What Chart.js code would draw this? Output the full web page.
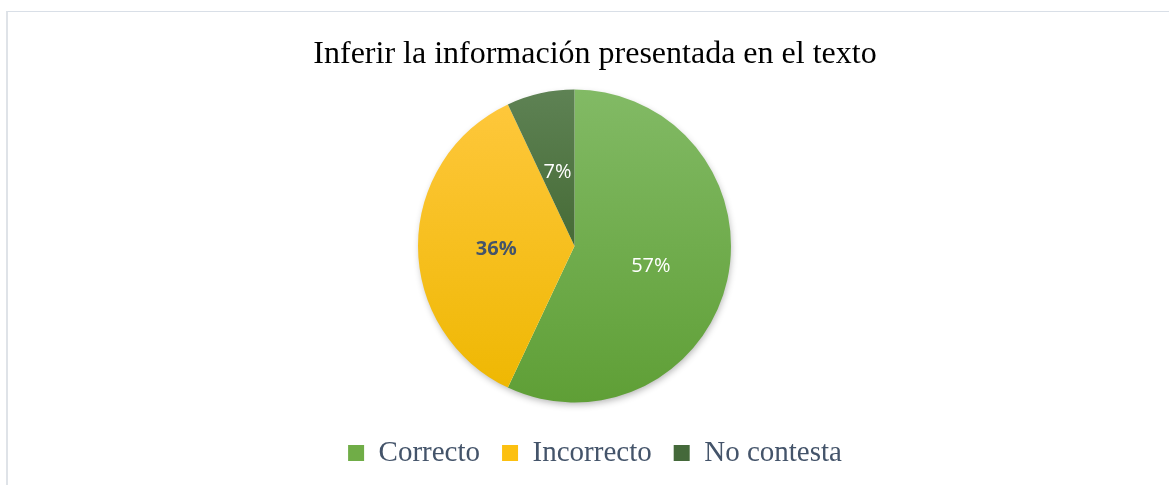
<!DOCTYPE html>
<html lang="es">
<head>
<meta charset="utf-8">
<title>Inferir la información presentada en el texto</title>
<script src="https://cdn.jsdelivr.net/npm/chart.js@4/dist/chart.umd.min.js"></script>
<style>
    html, body { margin: 0; padding: 0; background: #fff; overflow: hidden; }
    .chart-frame {
        position: absolute; left: 6px; top: 11px; width: 1200px; height: 500px;
        border-top: 1px solid #d9dfe7; border-left: 2px solid #dfe3e8;
    }
    #chart1 { position: absolute; left: 21px; top: 0; }
</style>
</head>
<body>
<div class="chart-frame"></div>
<canvas id="chart1" width="1148" height="485"></canvas>

<script>
/*===================================================================================*/
/*  data
/*===================================================================================*/
var chartTitle = 'Inferir la información presentada en el texto';
var categories = ['Correcto', 'Incorrecto', 'No contesta'];
var values = [57, 36, 7];

// colours: top / bottom of each slice gradient, flat colour for the legend
var topColors = ['#82ba65', '#ffc83e', '#5e8254'];
var bottomColors = ['#5f9f36', '#eeb700', '#2e5418'];
var legendColors = ['#70ad47', '#fcc010', '#44693a'];
var labelColors = ['#ffffff', '#44546a', '#ffffff'];
var labelWeights = ['normal', 'bold', 'normal'];

/*===================================================================================*/
/*  plugins
/*===================================================================================*/
// soft shadow under the whole pie
var pieShadow = {
    id: 'pieShadow',
    beforeDatasetsDraw: function(chart) {
        var arc = chart.getDatasetMeta(0).data[0];
        if (!arc) return;
        var ctx = chart.ctx;
        ctx.save();
        ctx.shadowColor = 'rgba(0,0,0,0.30)';
        ctx.shadowBlur = 7;
        ctx.shadowOffsetX = 1;
        ctx.shadowOffsetY = 3;
        ctx.fillStyle = '#ffffff';
        ctx.beginPath();
        ctx.arc(arc.x, arc.y, arc.outerRadius - 1, 0, Math.PI * 2);
        ctx.fill();
        ctx.restore();
    }
};

// percentage labels in the middle of each slice
var sliceLabels = {
    id: 'sliceLabels',
    afterDatasetsDraw: function(chart) {
        var ctx = chart.ctx;
        var total = values.reduce(function(a, b) { return a + b; }, 0);
        chart.getDatasetMeta(0).data.forEach(function(arc, i) {
            var pos = arc.tooltipPosition();
            ctx.save();
            ctx.font = labelWeights[i] + ' 20px "Open Sans", sans-serif';
            ctx.fillStyle = labelColors[i];
            ctx.textAlign = 'center';
            ctx.textBaseline = 'middle';
            ctx.fillText(Math.round(values[i] / total * 100) + '%', pos.x, pos.y + 3);
            ctx.restore();
        });
    }
};

function sliceGradient(context) {
    var chart = context.chart;
    var area = chart.chartArea;
    var i = context.dataIndex;
    if (!area) return legendColors[i];
    var g = chart.ctx.createLinearGradient(0, area.top + 14, 0, area.bottom - 14);
    g.addColorStop(0, topColors[i]);
    g.addColorStop(1, bottomColors[i]);
    return g;
}

/*===================================================================================*/
/*  pie chart
/*===================================================================================*/
var ctx = document.getElementById('chart1');
var myChart = new Chart(ctx, {
    type: 'pie',
    data: {
        labels: categories,
        datasets: [{
            data: values,
            backgroundColor: sliceGradient,
            borderWidth: 0,
            radius: 156.5,
            hoverOffset: 0
        }]
    },
    options: {
        responsive: false,
        animation: false,
        layout: {
            padding: { top: 0, left: 0, right: 0, bottom: 7.5 }
        },
        plugins: {
            title: {
                display: true,
                text: chartTitle,
                color: '#000000',
                font: { family: '"Liberation Serif", "Times New Roman", serif', size: 32, weight: 'normal', lineHeight: 1.2 },
                padding: { top: 35, bottom: 2.1 }
            },
            // empty box on the right, pushes the pie a little to the left
            subtitle: {
                display: true,
                text: '',
                position: 'right',
                fullSize: false,
                font: { size: 1, lineHeight: 1 },
                padding: { top: 20, bottom: 20 }
            },
            legend: {
                display: true,
                position: 'bottom',
                labels: {
                    boxWidth: 16,
                    boxHeight: 16,
                    padding: 22,
                    color: '#44546a',
                    font: { family: '"Liberation Serif", "Times New Roman", serif', size: 29 },
                    generateLabels: function(chart) {
                        var items = Chart.overrides.pie.plugins.legend.labels.generateLabels(chart);
                        items.forEach(function(item, i) {
                            item.fillStyle = legendColors[i];
                            item.lineWidth = 0;
                        });
                        return items;
                    }
                }
            },
            tooltip: { enabled: false }
        }
    },
    plugins: [pieShadow, sliceLabels]
});
</script>
</body>
</html>
